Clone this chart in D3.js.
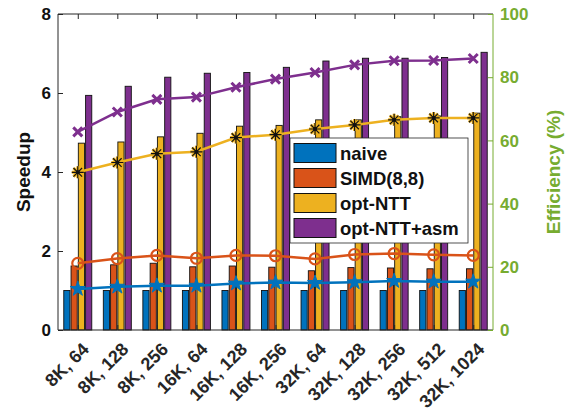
<!DOCTYPE html>
<html>
<head>
<meta charset="utf-8">
<script src="https://cdn.jsdelivr.net/npm/d3@7"></script>
<style>
  body { margin: 0; background: #fff; }
  text { font-family: "Liberation Sans", Arial, sans-serif; font-weight: bold; }
</style>
</head>
<body>
<div id="chart"></div>
<script>
// Categories (N, batch)
var categories = ['8K, 64', '8K, 128', '8K, 256', '16K, 64', '16K, 128', '16K, 256',
  '32K, 64', '32K, 128', '32K, 256', '32K, 512', '32K, 1024'];

var seriesNames = ['naive', 'SIMD(8,8)', 'opt-NTT', 'opt-NTT+asm'];

// Speedup (bars, left axis)
var naiveSpeedup = [1, 1, 1, 1, 1, 1, 1, 1, 1, 1, 1];
var simdSpeedup = [1.62, 1.65, 1.69, 1.60, 1.62, 1.59, 1.50, 1.58, 1.57, 1.55, 1.55];
var nttSpeedup = [4.73, 4.76, 4.89, 4.98, 5.16, 5.18, 5.32, 5.32, 5.40, 5.42, 5.49];
var asmSpeedup = [5.94, 6.17, 6.40, 6.50, 6.52, 6.65, 6.81, 6.88, 6.88, 6.90, 7.03];

// Efficiency % (lines, right axis)
var naiveEff = [13.0, 13.7, 14.0, 14.0, 14.7, 15.0, 14.9, 15.1, 15.5, 15.3, 15.3];
var simdEff = [21.1, 22.6, 23.6, 22.7, 23.6, 23.5, 22.5, 23.9, 24.2, 23.8, 23.6];
var nttEff = [49.9, 53.0, 55.8, 56.4, 60.9, 61.8, 63.6, 64.9, 66.5, 67.1, 67.1];
var asmEff = [62.7, 69.0, 73.0, 73.7, 76.8, 79.4, 81.5, 83.9, 85.2, 85.3, 85.9];

var leftTicks = [0, 2, 4, 6, 8];
var rightTicks = [0, 20, 40, 60, 80, 100];

var colors = ['#0072BD', '#D95319', '#EDB120', '#7E2F8E'];
var green = '#77AC30';

var speedups = [naiveSpeedup, simdSpeedup, nttSpeedup, asmSpeedup];
var effs = [naiveEff, simdEff, nttEff, asmEff];

// SVG
var w = 579;
var h = 413;
var plotL = 58, plotR = 493, plotT = 14, plotB = 330;

var svg = d3.select('#chart').append('svg')
  .attr('width', w)
  .attr('height', h);

// Scales
var xScale = d3.scalePoint().domain(categories).range([plotL, plotR]).padding(0.5);
var xSub = d3.scaleBand().domain(seriesNames).range([-14, 14]).paddingInner(0.15);
var yLeft = d3.scaleLinear().domain([0, 8]).range([plotB, plotT]);
var yRight = d3.scaleLinear().domain([0, 100]).range([plotB, plotT]);

// Bars
seriesNames.forEach(function (name, i) {
  svg.append('g')
    .selectAll('rect')
    .data(speedups[i])
    .enter()
    .append('rect')
    .attr('x', function (d, j) { return xScale(categories[j]) + xSub(name); })
    .attr('y', function (d) { return yLeft(d); })
    .attr('width', xSub.bandwidth())
    .attr('height', function (d) { return yLeft(0) - yLeft(d); })
    .attr('fill', colors[i])
    .attr('stroke', '#111')
    .attr('stroke-width', 0.9);
});

// Axes
var xTop = d3.axisBottom(xScale).tickSize(5).tickFormat('');
svg.append('g').attr('transform', `translate(0, ${plotT})`).call(xTop)
  .call(function (g) { g.select('.domain').remove(); });
var xBottom = d3.axisTop(xScale).tickSize(5).tickFormat('');
svg.append('g').attr('transform', `translate(0, ${plotB})`).call(xBottom)
  .call(function (g) { g.select('.domain').remove(); });

svg.selectAll('.tick line').attr('stroke', '#262626');

svg.append('line').attr('x1', plotL).attr('x2', plotR).attr('y1', plotT).attr('y2', plotT)
  .attr('stroke', '#262626');
svg.append('line').attr('x1', plotL).attr('x2', plotR).attr('y1', plotB).attr('y2', plotB)
  .attr('stroke', '#262626').attr('stroke-width', 1.2);

// X labels
svg.append('g').selectAll('text')
  .data(categories)
  .enter()
  .append('text')
  .attr('transform', function (d) { return `translate(${xScale(d) + 9}, ${plotB + 17}) rotate(-45)`; })
  .attr('text-anchor', 'end')
  .attr('dominant-baseline', 'middle')
  .attr('font-size', 18)
  .attr('fill', '#262626')
  .text(function (d) { return d; });

// Left axis
var yAxisL = d3.axisRight(yLeft).tickValues(leftTicks).tickSize(5).tickFormat('');
var gl = svg.append('g').attr('transform', `translate(${plotL}, 0)`).call(yAxisL);
gl.selectAll('path, line').attr('stroke', '#262626');
gl.select('.domain').attr('d', `M0,${plotT}V${plotB}`);
svg.append('g').selectAll('text')
  .data(leftTicks)
  .enter()
  .append('text')
  .attr('x', plotL - 7)
  .attr('y', function (d) { return yLeft(d); })
  .attr('dy', '0.36em')
  .attr('text-anchor', 'end')
  .attr('font-size', 17)
  .attr('fill', '#111')
  .text(function (d) { return d; });

// Right axis
var yAxisR = d3.axisLeft(yRight).tickValues(rightTicks).tickSize(5).tickFormat('');
var gr = svg.append('g').attr('transform', `translate(${plotR}, 0)`).call(yAxisR);
gr.selectAll('path, line').attr('stroke', green);
gr.select('.domain').attr('d', `M0,${plotT}V${plotB}`);
svg.append('g').selectAll('text')
  .data(rightTicks)
  .enter()
  .append('text')
  .attr('x', plotR + 7)
  .attr('y', function (d) { return yRight(d); })
  .attr('dy', '0.36em')
  .attr('text-anchor', 'start')
  .attr('font-size', 17)
  .attr('fill', green)
  .text(function (d) { return d; });

// Axis titles
svg.append('text')
  .attr('transform', `translate(30, ${(plotT + plotB) / 2}) rotate(-90)`)
  .attr('text-anchor', 'middle')
  .attr('font-size', 19)
  .attr('fill', '#111')
  .text('Speedup');
svg.append('text')
  .attr('transform', `translate(560, ${(plotT + plotB) / 2}) rotate(-90)`)
  .attr('text-anchor', 'middle')
  .attr('font-size', 19)
  .attr('fill', green)
  .text('Efficiency (%)');

// Efficiency lines
var line = d3.line()
  .x(function (d, j) { return xScale(categories[j]); })
  .y(function (d) { return yRight(d); });

effs.forEach(function (vals, i) {
  var g = svg.append('g');
  g.append('path')
    .datum(vals)
    .attr('d', line)
    .attr('fill', 'none')
    .attr('stroke', colors[i])
    .attr('stroke-width', 2.5);

  var pts = g.selectAll('g.marker')
    .data(vals)
    .enter()
    .append('g')
    .attr('transform', function (d, j) { return `translate(${xScale(categories[j])}, ${yRight(d)})`; });

  if (i === 0) {
    pts.append('path')
      .attr('d', d3.symbol().type(d3.symbolStar).size(70))
      .attr('fill', colors[0])
      .attr('stroke', colors[0])
      .attr('stroke-width', 1);
  } else if (i === 1) {
    pts.append('circle')
      .attr('r', 5.5)
      .attr('fill', 'none')
      .attr('stroke', colors[1])
      .attr('stroke-width', 2.2);
  } else if (i === 2) {
    var ast = 'M-6,0H6M0,-6V6M-4.3,-4.3L4.3,4.3M-4.3,4.3L4.3,-4.3';
    pts.append('path').attr('d', ast).attr('stroke', colors[2]).attr('stroke-width', 3);
    pts.append('path').attr('d', ast).attr('stroke', '#111').attr('stroke-width', 1.2);
    pts.append('circle').attr('r', 2).attr('fill', '#111');
  } else {
    pts.append('path')
      .attr('d', 'M-4.5,-4.5L4.5,4.5M-4.5,4.5L4.5,-4.5')
      .attr('stroke', colors[3])
      .attr('stroke-width', 3);
  }
});

// Legend
var lg = svg.append('g').attr('transform', 'translate(290, 138)');
lg.append('rect')
  .attr('width', 178)
  .attr('height', 105)
  .attr('fill', '#fff')
  .attr('stroke', '#262626')
  .attr('stroke-width', 0.8);

seriesNames.forEach(function (name, i) {
  var yy = 15 + i * 25;
  lg.append('rect')
    .attr('x', 4)
    .attr('y', yy - 9.5)
    .attr('width', 42)
    .attr('height', 19)
    .attr('fill', colors[i])
    .attr('stroke', '#111')
    .attr('stroke-width', 1);
  lg.append('text')
    .attr('x', 50)
    .attr('y', yy)
    .attr('dy', '0.36em')
    .attr('font-size', 18.5)
    .attr('fill', '#111')
    .text(name);
});
</script>
</body>
</html>
